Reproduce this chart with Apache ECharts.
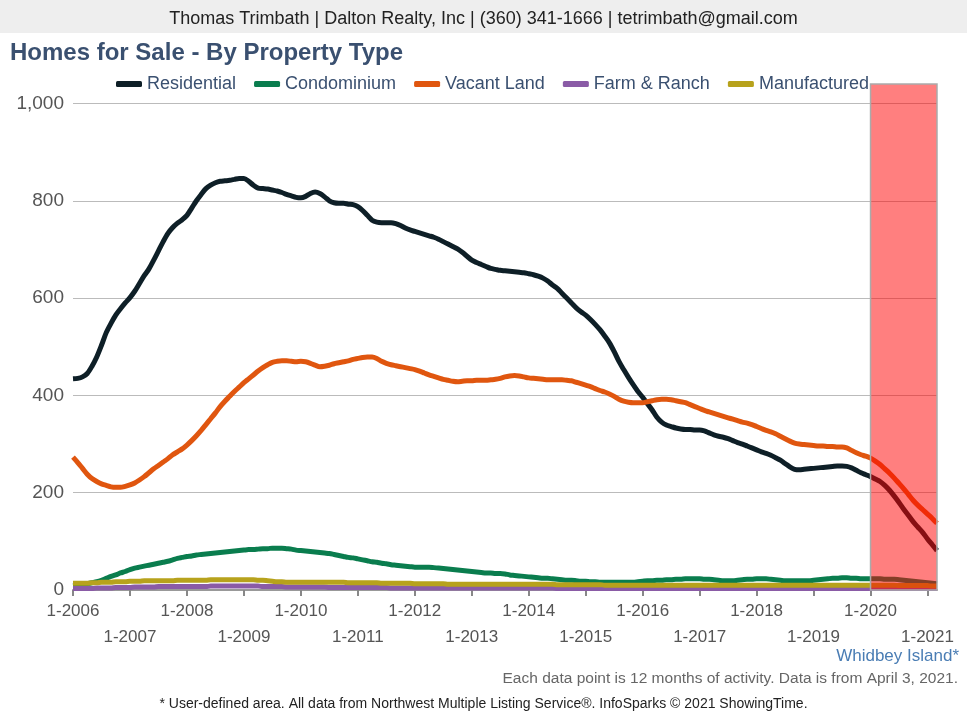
<!DOCTYPE html>
<html>
<head>
<meta charset="utf-8">
<script src="https://cdn.jsdelivr.net/npm/echarts@6/dist/echarts.min.js"></script>
<style>
	html, body { margin: 0; padding: 0; background: #fff; }
	#chart { width: 967px; height: 714px; }
</style>
</head>
<body>
<div id="chart"></div>
<script>
// monthly points, 1-2006 .. 3-2021
const months = [];
for (let y = 2006; y <= 2021; y++) {
	for (let m = 1; m <= 12; m++) {
		if (y === 2021 && m > 3) break;
		months.push(m + '-' + y);
	}
}

const seriesNames = ['Residential', 'Condominium', 'Vacant Land', 'Farm & Ranch', 'Manufactured'];
const seriesColors = ['#0e1f27', '#0a7d4e', '#e0560f', '#8a5ba6', '#b7a21c'];

const residential = [
	434, 435, 438, 445, 460, 479, 503, 529, 548, 565, 578, 590,
	601, 614, 630, 646, 660, 678, 697, 716, 733, 745, 754, 761,
	770, 785, 800, 813, 825, 832, 837, 840, 841, 842, 844, 846,
	846, 840, 832, 826, 825, 824, 822, 820, 817, 813, 810, 807,
	806, 809, 815, 818, 815, 808, 800, 796, 795, 795, 793, 792,
	788, 780, 770, 760, 756, 755, 755, 755, 753, 749, 744, 740,
	737, 734, 731, 728, 725, 721, 716, 711, 706, 701, 694, 686,
	678, 673, 669, 665, 661, 659, 657, 656, 655, 654, 653, 652,
	650, 648, 645, 641, 635, 627, 620, 610, 600, 590, 580, 572,
	565, 556, 546, 535, 522, 508, 490, 470, 453, 437, 422, 408,
	396, 383, 370, 355, 345, 339, 336, 333, 331, 330, 330, 329,
	329, 327, 323, 319, 316, 314, 311, 307, 303, 300, 296, 292,
	288, 284, 281, 277, 272, 267, 260, 253, 248, 247, 248, 249,
	250, 251, 252, 253, 254, 255, 255, 254, 251, 246, 241, 237,
	233, 228, 223, 215, 205, 193, 180, 166, 153, 140, 129, 118,
	105, 93, 81
];

const condominium = [
	9, 10, 11, 13, 15, 17, 20, 24, 28, 31, 35, 38,
	42, 45, 47, 49, 51, 53, 55, 57, 59, 62, 65, 67,
	69, 70, 72, 73, 74, 75, 76, 77, 78, 79, 80, 81,
	82, 83, 83, 84, 85, 85, 86, 86, 86, 85, 84, 82,
	81, 80, 79, 78, 77, 76, 75, 73, 71, 69, 67, 66,
	64, 62, 60, 58, 57, 55, 54, 52, 51, 50, 49, 48,
	47, 47, 47, 47, 46, 45, 44, 43, 42, 41, 40, 39,
	38, 37, 36, 35, 35, 34, 34, 33, 31, 30, 29, 28,
	27, 26, 25, 24, 24, 23, 22, 21, 20, 20, 19, 18,
	18, 17, 17, 16, 16, 16, 16, 16, 16, 16, 16, 17,
	18, 19, 19, 20, 20, 21, 21, 22, 22, 23, 23, 23,
	23, 22, 22, 21, 20, 19, 19, 19, 20, 21, 22, 22,
	23, 23, 23, 22, 21, 20, 19, 19, 19, 19, 19, 19,
	20, 21, 22, 23, 24, 24, 25, 25, 24, 24, 23, 23,
	23, 23, 23, 22, 22, 22, 21, 20, 19, 18, 17, 16,
	15, 14, 13
];

const vacantLand = [
	273, 262, 250, 238, 229, 223, 218, 215, 212, 211, 211, 213,
	216, 220, 226, 233, 241, 249, 256, 263, 270, 278, 284, 290,
	298, 307, 317, 328, 340, 352, 364, 377, 388, 398, 408, 417,
	426, 434, 442, 450, 457, 463, 468, 470, 471, 471, 470, 469,
	470, 469, 466, 462, 459, 460, 462, 465, 467, 469, 471, 474,
	476, 478, 479, 479, 476, 470, 466, 463, 461, 459, 457, 455,
	453, 450, 446, 442, 439, 436, 433, 431, 429, 428, 429, 430,
	430, 431, 431, 431, 432, 433, 435, 438, 440, 441, 440, 438,
	436, 435, 434, 433, 432, 432, 432, 432, 431, 430, 427, 424,
	421, 418, 414, 410, 407, 403, 398, 392, 388, 386, 385, 385,
	385, 387, 389, 391, 392, 392, 391, 389, 387, 385, 381, 377,
	373, 369, 366, 363, 360, 357, 354, 351, 348, 345, 343, 340,
	336, 332, 328, 325, 321, 316, 311, 306, 302, 300, 299, 298,
	297, 296, 296, 295, 295, 294, 294, 292, 287, 282, 278, 275,
	271, 265, 258, 249, 240, 230, 219, 208, 196, 184, 174, 165,
	156, 147, 137
];

const farmRanch = [
	3, 3, 3, 3, 3, 4, 4, 4, 4, 5, 5, 5,
	5, 6, 6, 6, 6, 6, 7, 7, 7, 7, 7, 7,
	7, 7, 7, 7, 7, 8, 8, 8, 8, 8, 8, 8,
	8, 8, 8, 8, 7, 7, 7, 7, 7, 6, 6, 6,
	6, 6, 6, 6, 6, 6, 5, 5, 5, 5, 5, 5,
	5, 5, 5, 5, 5, 5, 5, 4, 4, 4, 4, 4,
	4, 4, 4, 4, 4, 4, 4, 4, 4, 4, 4, 4,
	4, 4, 4, 4, 4, 4, 4, 4, 4, 4, 4, 4,
	4, 4, 4, 4, 4, 4, 3, 3, 3, 3, 3, 3,
	3, 3, 3, 3, 3, 3, 3, 3, 3, 3, 3, 3,
	3, 3, 3, 3, 3, 3, 3, 3, 3, 3, 3, 3,
	3, 3, 3, 3, 3, 3, 3, 3, 3, 3, 3, 3,
	3, 3, 3, 3, 3, 3, 3, 3, 3, 3, 3, 3,
	3, 3, 3, 3, 3, 3, 3, 3, 3, 3, 3, 3,
	3, 3, 3, 3, 3, 3, 3, 3, 3, 3, 3, 3,
	3, 3, 3
];

const manufactured = [
	14, 14, 14, 14, 15, 15, 16, 16, 16, 17, 17, 17,
	18, 18, 18, 19, 19, 19, 19, 19, 19, 19, 20, 20,
	20, 20, 20, 20, 20, 21, 21, 21, 21, 21, 21, 21,
	21, 21, 21, 20, 20, 19, 18, 17, 17, 16, 16, 16,
	16, 16, 16, 16, 16, 16, 16, 16, 16, 16, 15, 15,
	15, 15, 15, 15, 15, 14, 14, 14, 14, 14, 14, 14,
	13, 13, 13, 13, 13, 13, 13, 12, 12, 12, 12, 12,
	12, 12, 12, 12, 12, 12, 12, 12, 12, 12, 12, 12,
	12, 12, 12, 12, 12, 12, 11, 11, 11, 11, 11, 11,
	11, 11, 11, 11, 10, 10, 10, 10, 10, 10, 10, 10,
	10, 10, 10, 10, 10, 10, 10, 10, 10, 10, 10, 10,
	10, 10, 10, 10, 10, 10, 10, 10, 10, 10, 10, 10,
	10, 10, 10, 10, 10, 10, 10, 10, 10, 10, 10, 10,
	10, 10, 10, 10, 10, 10, 10, 10, 10, 10, 10, 10,
	10, 10, 10, 10, 10, 10, 9, 9, 9, 9, 9, 9,
	9, 8, 8
];

const seriesData = [residential, condominium, vacantLand, farmRanch, manufactured];

// highlighted period
const highlightStart = '1-2020';
const highlightEnd = '3-2021';

const yTicks = [0, 200, 400, 600, 800, 1000];

const font = '"Liberation Sans", Arial, Helvetica, sans-serif';
const chart = echarts.init(document.getElementById('chart'));

const isJanuary = (v) => v.indexOf('1-') === 0;

const lineSeries = seriesNames.map((name, i) => ({
	name: name,
	type: 'line',
	data: seriesData[i],
	showSymbol: false,
	smooth: 0.3,
	lineStyle: { width: 5, color: seriesColors[i] },
	itemStyle: { color: seriesColors[i] },
	z: 2
}));

// overlay series carrying the shaded period, drawn above the lines
lineSeries.push({
	name: 'highlight',
	type: 'line',
	data: [],
	z: 10,
	silent: true,
	markArea: {
		silent: true,
		z: 10,
		itemStyle: { color: 'rgba(255, 0, 0, 0.5)', borderColor: '#aaa', borderWidth: 1.5 },
		data: [[{ xAxis: highlightStart }, { xAxis: highlightEnd }]]
	}
});

chart.setOption({
	animation: false,
	textStyle: { fontFamily: font },
	graphic: [
		{ type: 'rect', left: 0, top: 0, shape: { width: 967, height: 33 }, style: { fill: '#eeeeee' }, z: -1 }
	],
	title: [
		{
			text: 'Thomas Trimbath | Dalton Realty, Inc | (360) 341-1666 | tetrimbath@gmail.com',
			left: 'center', top: 5,
			textStyle: { fontFamily: font, fontSize: 18, fontWeight: 'normal', color: '#222' }
		},
		{
			text: 'Homes for Sale - By Property Type',
			left: 5, top: 36,
			textStyle: { fontFamily: font, fontSize: 24, fontWeight: 'bold', color: '#3a5070' }
		},
		{
			text: 'Whidbey Island*',
			right: 3, top: 643,
			textStyle: { fontFamily: font, fontSize: 17, fontWeight: 'normal', color: '#4a7db4' }
		},
		{
			text: 'Each data point is 12 months of activity. Data is from April 3, 2021.',
			right: 4, top: 666,
			textStyle: { fontFamily: font, fontSize: 15.5, fontWeight: 'normal', color: '#666' }
		},
		{
			text: '* User-defined area. All data from Northwest Multiple Listing Service®. InfoSparks © 2021 ShowingTime.',
			left: 'center', top: 692,
			textStyle: { fontFamily: font, fontSize: 14, fontWeight: 'normal', color: '#222' }
		}
	],
	legend: {
		data: seriesNames,
		top: 70, left: 111,
		icon: 'roundRect',
		itemWidth: 26, itemHeight: 6, itemGap: 18,
		textStyle: { fontFamily: font, fontSize: 18, color: '#3a5070' }
	},
	grid: { left: 73, right: 30, top: 84, bottom: 124 },
	xAxis: {
		type: 'category',
		data: months,
		boundaryGap: false,
		axisLine: { lineStyle: { color: '#999', width: 2 } },
		axisTick: {
			interval: (idx, v) => isJanuary(v),
			length: 6,
			lineStyle: { color: '#888', width: 2 }
		},
		axisLabel: {
			interval: (idx, v) => isJanuary(v),
			color: '#555',
			fontSize: 17,
			lineHeight: 26,
			margin: 8,
			formatter: (v) => (parseInt(v.split('-')[1], 10) % 2 === 1 ? '\n' + v : v)
		},
		splitLine: { show: false }
	},
	yAxis: {
		type: 'value',
		min: yTicks[0],
		max: 1040,
		interval: 200,
		axisLine: { show: false },
		axisTick: { show: false },
		axisLabel: {
			color: '#555', fontSize: 19, margin: 9, showMaxLabel: false,
			formatter: (v) => v.toLocaleString('en-US')
		},
		splitLine: {
			lineStyle: { color: ['#bbb', '#bbb', '#bbb', '#bbb', '#bbb', '#bbb', 'rgba(0,0,0,0)'], width: 1 }
		}
	},
	series: lineSeries
});
</script>
</body>
</html>
